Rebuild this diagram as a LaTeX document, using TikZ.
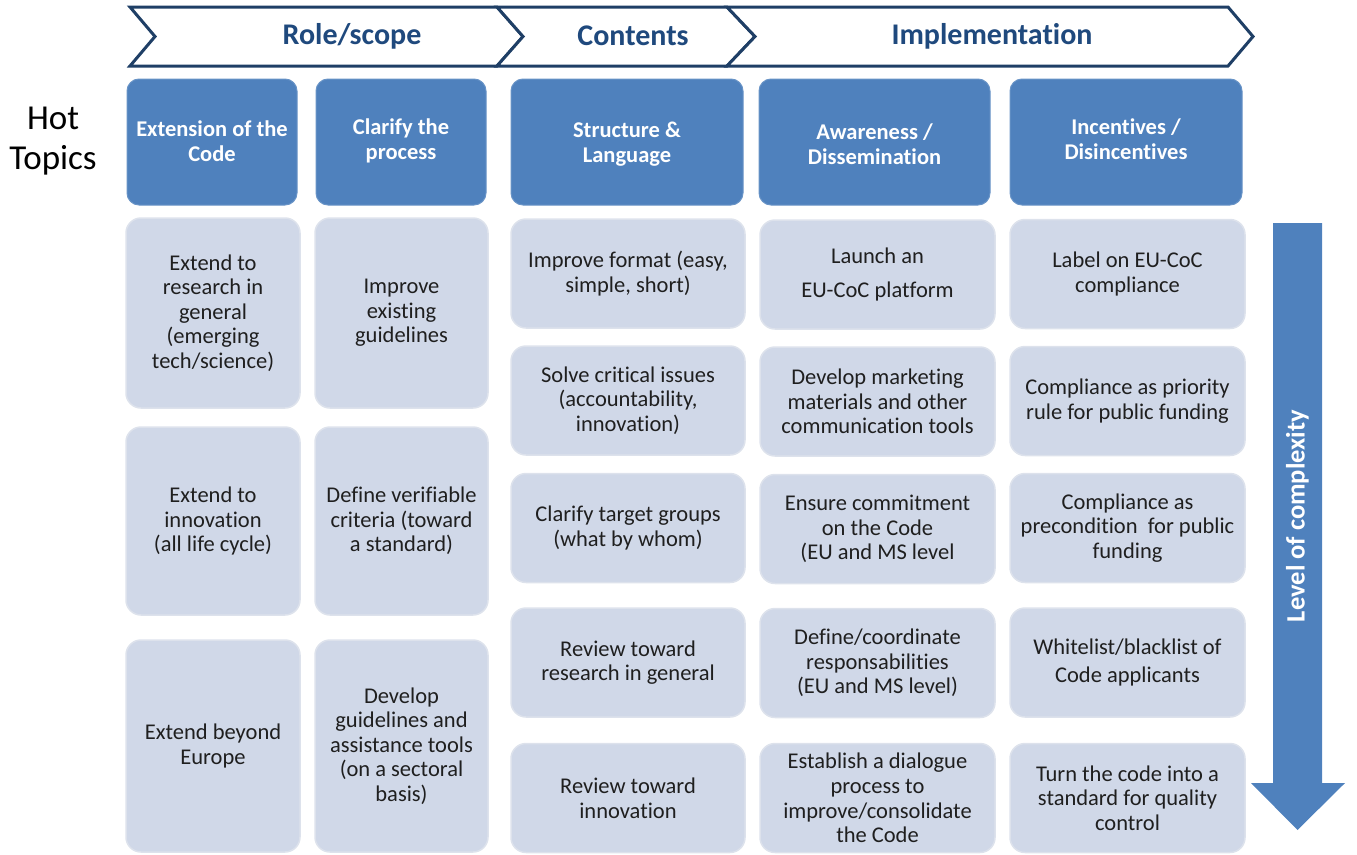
\documentclass[tikz,border=0pt]{standalone}
\usepackage{fontspec}
\setmainfont[Ligatures=NoCommon]{Carlito}

\definecolor{stageline}{HTML}{1F3F66}
\definecolor{stagetext}{HTML}{1F497D}
\definecolor{topicblue}{HTML}{4F81BD}
\definecolor{itemfill}{HTML}{D0D8E8}
\definecolor{itemline}{HTML}{DDE2EC}

\newcommand{\headerh}{126}
\newcommand{\headery}{142}

\tikzset{
    stagebox/.style={draw=stageline, line width=3pt, fill=white, line join=miter},
    stagelabel/.style={font=\bfseries\fontsize{30}{32}\selectfont, text=stagetext},
    topic/.style={rectangle, rounded corners=12pt, fill=topicblue, draw=topicblue!85!white, line width=1pt,
        text=white, font=\bfseries\fontsize{22.5}{24.5}\selectfont, align=center, inner sep=0pt},
    item/.style={rectangle, rounded corners=15pt, fill=itemfill, draw=itemline, line width=1.5pt,
        text=black!88, font=\fontsize{22.5}{24.6}\selectfont, align=center, inner sep=0pt},
}

\begin{document}
\begin{tikzpicture}[x=1pt, y=-1pt]
    \useasboundingbox (0,0) rectangle (1357,854);

    % chevron band on top
    \draw[stagebox] (130,7) -- (497,7) -- (523,36.5) -- (497,66) -- (130,66) -- (155,36.5) -- cycle;
    \draw[stagebox] (497,7) -- (727,7) -- (755,36.5) -- (727,66) -- (497,66) -- (523,36.5) -- cycle;
    \draw[stagebox] (727,7) -- (1228,7) -- (1253,36.5) -- (1228,66) -- (727,66) -- (755,36.5) -- cycle;
    \node[stagelabel] (role) at (352,36) {Role/scope};
    \node[stagelabel] (contents) at (633,36) {Contents};
    \node[stagelabel] (impl) at (992,36) {Implementation};

    \node[font=\fontsize{35}{40}\selectfont, align=center] (hot) at (53,141) {Hot\\Topics};

    % topic headers
    \foreach \name/\x/\y/\w/\txt in {
        ext/212/141/170/{Extension of the\\Code},
        clar/401/141/170/{Clarify the\\process},
        struct/627/144/232/{Structure \&\\Language},
        aware/874.5/144/231/{Awareness /\\Dissemination},
        incent/1126/139/232/{Incentives /\\Disincentives}} {
        \node[topic, minimum width=\w, minimum height=\headerh, text depth=0pt] (\name) at (\x,\headery) {};
        \node[text=white, font=\bfseries\fontsize{22.5}{24.5}\selectfont, align=center, inner sep=0pt] (\name txt) at (\x,\y) {\txt};
    }

    % role/scope columns, three tall boxes each
    \foreach \row/\y/\h/\txt in {
        1/313/190/{Extend to\\research in\\general\\(emerging\\tech/science)},
        2/521/188/{Extend to\\innovation\\(all life cycle)},
        3/746/212/{Extend beyond\\Europe}} {
        \node[item, minimum width=174, minimum height=\h] (ext\row) at (213,\y) {\txt};
    }
    \foreach \row/\y/\h/\txt in {
        1/313/190/{Improve\\existing\\guidelines},
        2/521/188/{Define verifiable\\criteria (toward\\a standard)},
        3/746/212/{Develop\\guidelines and\\assistance tools\\(on a sectoral\\basis)}} {
        \node[item, minimum width=173, minimum height=\h] (clar\row) at (401.5,\y) {\txt};
    }

    % contents and implementation columns, five boxes each
    \foreach \row/\y/\txt in {
        1/273.5/{Improve format (easy,\\simple, short)},
        2/400.5/{Solve critical issues\\(accountability,\\innovation)},
        3/528/{Clarify target groups\\(what by whom)},
        4/662.5/{Review toward\\research in general},
        5/798/{Review toward\\innovation}} {
        \node[item, minimum width=234, minimum height=109] (struct\row) at (628,\y) {\txt};
    }
    \foreach \row/\y/\txt in {
        1/274.5/{Launch an\\[9pt]EU-CoC platform},
        2/401.5/{Develop marketing\\materials and other\\communication tools},
        3/529/{Ensure commitment\\on the Code\\(EU and MS level},
        4/663/{Define/coordinate\\responsabilities\\(EU and MS level)},
        5/798/{Establish a dialogue\\process to\\improve/consolidate\\the Code}} {
        \node[item, minimum width=235, minimum height=109] (aware\row) at (877.5,\y) {\txt};
    }
    \foreach \row/\y/\txt in {
        1/274/{Label on EU-CoC\\compliance},
        2/401/{Compliance as priority\\rule for public funding},
        3/528/{Compliance as\\precondition \ for public\\funding},
        4/662.5/{Whitelist/blacklist of\\[3pt]Code applicants},
        5/798/{Turn the code into a\\standard for quality\\control}} {
        \node[item, minimum width=235, minimum height=109] (incent\row) at (1127.5,\y) {\txt};
    }

    % complexity arrow
    \coordinate (cplxtop) at (1297.5,223);
    \coordinate (cplxtip) at (1297.5,830);
    \fill[topicblue] (1273,223) -- (1322,223) -- (1322,783) -- (1345,783) -- (cplxtip)
        -- (1251,783) -- (1273,783) -- cycle;
    \node[rotate=90, text=white, font=\bfseries\fontsize{26.5}{28}\selectfont] (cplx) at (1297.5,516) {Level of complexity};
\end{tikzpicture}
\end{document}
